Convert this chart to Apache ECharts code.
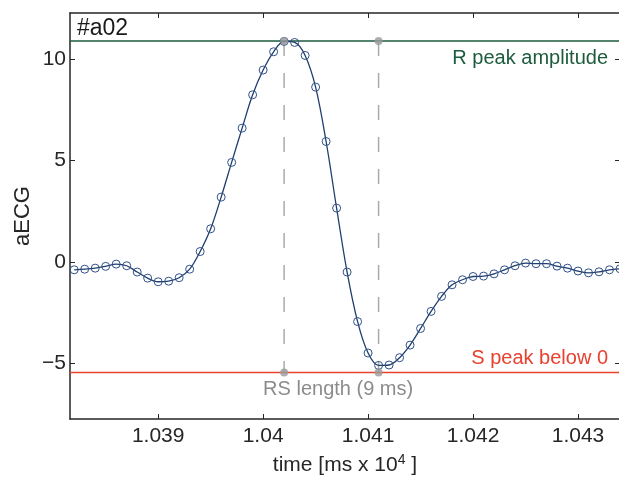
<!DOCTYPE html>
<html><head><meta charset="utf-8">
<script src="https://cdn.jsdelivr.net/npm/echarts@6/dist/echarts.min.js"></script>
<style>html,body{margin:0;padding:0;background:#fff}#c{width:619px;height:481px}</style>
</head><body><div id="c"></div>
<script>
// sample times [ms x 10^4]
const times = [1.0382,1.0383,1.0384,1.0385,1.0386,1.0387,1.0388,1.0389,1.0390,1.0391,
  1.0392,1.0393,1.0394,1.0395,1.0396,1.0397,1.0398,1.0399,1.0400,1.0401,
  1.0402,1.0403,1.0404,1.0405,1.0406,1.0407,1.0408,1.0409,1.0410,1.0411,
  1.0412,1.0413,1.0414,1.0415,1.0416,1.0417,1.0418,1.0419,1.0420,1.0421,
  1.0422,1.0423,1.0424,1.0425,1.0426,1.0427,1.0428,1.0429,1.0430,1.0431,
  1.0432,1.0433,1.0434];
// aECG values
const aecg = [-0.38,-0.35,-0.30,-0.21,-0.10,-0.18,-0.49,-0.79,-0.97,-0.94,
  -0.77,-0.35,0.52,1.64,3.20,4.91,6.60,8.24,9.46,10.36,
  10.87,10.82,10.18,8.62,5.94,2.66,-0.49,-2.93,-4.48,-5.09,
  -5.07,-4.71,-4.09,-3.27,-2.43,-1.69,-1.12,-0.87,-0.71,-0.69,
  -0.58,-0.38,-0.18,-0.05,-0.08,-0.08,-0.20,-0.30,-0.44,-0.53,
  -0.48,-0.38,-0.33];
const xTicks = [1.039, 1.040, 1.041, 1.042, 1.043];
const yTicks = [-5, 0, 5, 10];
const xRange = [1.03816, 1.0434];
const yRange = [-7.73, 12.27];
const rPeakTime = 1.0402, sPeakTime = 1.0411;
const rPeakAmp = 10.89, sPeakAmp = -5.44;
const recordName = '#a02';
const rLabel = 'R peak amplitude';
const sLabel = 'S peak below 0';
const rsLabel = 'RS length (9 ms)';

const FONT = "'Liberation Sans', Arial, Helvetica, sans-serif";
const AX = '#262626';
const chart = echarts.init(document.getElementById('c'), null, {renderer: 'canvas'});

const fmtY = v => v < 0 ? '\u2212' + (-v) : String(v);
const fmtX = v => String(+v.toFixed(3));

const baseX = {
  type: 'value', min: xRange[0], max: xRange[1],
  splitLine: {show: false},
  axisLine: {show: true, onZero: false, lineStyle: {color: AX, width: 1.5}},
  axisTick: {show: true, inside: true, length: 5, customValues: xTicks, lineStyle: {color: AX, width: 1}},
};
const baseY = {
  type: 'value', min: yRange[0], max: yRange[1],
  splitLine: {show: false},
  axisLine: {show: true, onZero: false, lineStyle: {color: AX, width: 1.5}},
  axisTick: {show: true, inside: true, length: 5, customValues: yTicks, lineStyle: {color: AX, width: 1}},
};

chart.setOption({
  animation: false,
  grid: {left: 70, top: 13, width: 550, height: 406, containLabel: false, outerBoundsMode: 'none'},
  xAxis: [
    Object.assign({}, baseX, {
      position: 'bottom',
      axisLabel: {customValues: xTicks, formatter: fmtX, color: AX, fontFamily: FONT, fontSize: 21, margin: 7},
      name: 'time [ms x 10{sup|4} ]', nameLocation: 'middle', nameGap: 34, nameMoveOverlap: false,
      nameTextStyle: {color: AX, fontFamily: FONT, fontSize: 21,
        rich: {sup: {fontSize: 14, fontFamily: FONT, color: AX, padding: [0, 0, 10, 0]}}}
    }),
    Object.assign({}, baseX, {position: 'top', axisLabel: {show: false}})
  ],
  yAxis: [
    Object.assign({}, baseY, {
      position: 'left',
      axisLabel: {customValues: yTicks, formatter: fmtY, color: AX, fontFamily: FONT, fontSize: 21, margin: 4},
      name: 'aECG', nameLocation: 'middle', nameGap: 36, nameMoveOverlap: false,
      nameTextStyle: {color: AX, fontFamily: FONT, fontSize: 22}
    }),
    Object.assign({}, baseY, {position: 'right', axisLabel: {show: false}})
  ],
  series: [
    {type: 'line', silent: true, symbol: 'none', z: 1,
     data: [[xRange[0], rPeakAmp], [xRange[1], rPeakAmp]],
     lineStyle: {color: '#1d5b3e', width: 1.4}},
    {type: 'line', silent: true, symbol: 'none', z: 1,
     data: [[xRange[0], sPeakAmp], [xRange[1], sPeakAmp]],
     lineStyle: {color: '#e8412f', width: 1.4}},
    {type: 'line', silent: true, symbol: 'none', z: 2,
     data: [[rPeakTime, rPeakAmp], [rPeakTime, sPeakAmp]],
     lineStyle: {color: '#aaaaaa', width: 1.5, type: [15, 17]}},
    {type: 'line', silent: true, symbol: 'none', z: 2,
     data: [[sPeakTime, rPeakAmp], [sPeakTime, sPeakAmp]],
     lineStyle: {color: '#aaaaaa', width: 1.5, type: [15, 17]}},
    {type: 'line', z: 3, smooth: 0.35,
     data: times.map((t, i) => [t, aecg[i]]),
     symbol: 'circle', symbolSize: 8,
     lineStyle: {color: '#1f3d6e', width: 1.3},
     itemStyle: {color: 'rgba(0,0,0,0)', borderColor: '#2f5088', borderWidth: 1}},
    {type: 'scatter', z: 4, symbolSize: 8,
     data: [[rPeakTime, rPeakAmp], [sPeakTime, rPeakAmp], [rPeakTime, sPeakAmp], [sPeakTime, sPeakAmp]],
     itemStyle: {color: '#9a9a9a'}}
  ]
});

const px = (x, y) => chart.convertToPixel({gridIndex: 0}, [x, y]);
const pR = px(xRange[1], rPeakAmp);
const pS = px(xRange[1], sPeakAmp);
const pRS = px(rPeakTime, sPeakAmp);
const pTL = px(xRange[0], yRange[1]);
chart.setOption({
  graphic: [
    {type: 'text', x: pTL[0] + 7, y: pTL[1] + 16, style: {text: recordName, font: '23px ' + FONT, fill: '#1a1a1a', verticalAlign: 'middle', align: 'left'}},
    {type: 'text', x: pR[0] - 12, y: pR[1] + 17, style: {text: rLabel, font: '20px ' + FONT, fill: '#1d5b3e', verticalAlign: 'middle', align: 'right'}},
    {type: 'text', x: pS[0] - 12, y: pS[1] - 14, style: {text: sLabel, font: '20px ' + FONT, fill: '#e8412f', verticalAlign: 'middle', align: 'right'}},
    {type: 'text', x: pRS[0] - 21, y: pRS[1] + 17, style: {text: rsLabel, font: '20px ' + FONT, fill: '#8c8c8c', verticalAlign: 'middle', align: 'left'}}
  ]
});
</script></body></html>
